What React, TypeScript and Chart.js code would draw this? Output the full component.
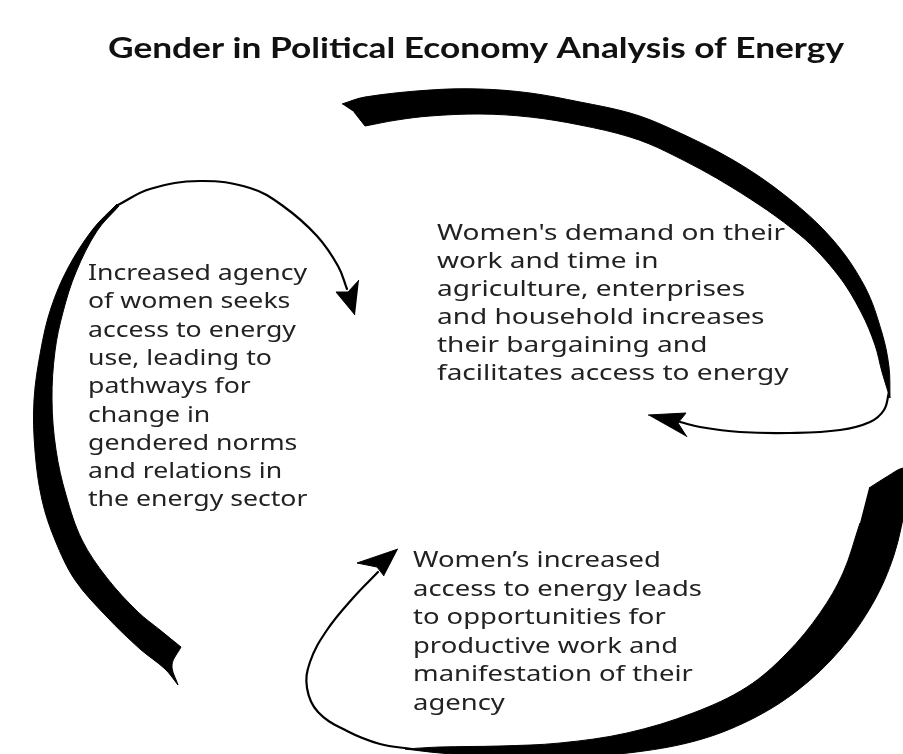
import React, { useEffect, useRef } from "react";
import { Chart, registerables } from "chart.js";

Chart.register(...registerables);

// ---------- text content ----------
const titleText = "Gender in Political Economy Analysis of Energy";
const leftText = [
  "Increased agency",
  "of women seeks",
  "access to energy",
  "use, leading to",
  "pathways for",
  "change in",
  "gendered norms",
  "and relations in",
  "the energy sector",
];
const rightText = [
  "Women's demand on their",
  "work and time in",
  "agriculture, enterprises",
  "and household increases",
  "their bargaining and",
  "facilitates access to energy",
];
const bottomText = [
  "Women\u2019s increased",
  "access to energy leads",
  "to opportunities for",
  "productive work and",
  "manifestation of their",
  "agency",
];

// ---------- outline points of the marks (picture coordinates) ----------
// a third element "c" marks a sharp corner
type P = [number, number] | [number, number, "c"];

const topArc: P[] = [
  [342, 104, "c"], [365, 97], [430, 90], [480, 89], [530, 93], [580, 102], [630, 113], [667, 127],
  [733, 160], [787, 197], [833, 240], [865, 287], [882, 333], [889, 367], [890, 398, "c"],
  [882, 372], [875, 345], [861, 312], [838, 275], [800, 235], [733, 188], [667, 152], [630, 137],
  [580, 125], [530, 117], [480, 114], [430, 116], [397, 120], [365, 126, "c"], [354, 112],
];
const topTail: P[] = [
  [889, 392], [884, 410], [870, 422], [840, 430], [790, 433], [740, 432], [700, 427], [680, 422],
];
const topHead: P[] = [[648, 415], [686, 413], [678, 423], [687, 437]];

const leftArc: P[] = [
  [117, 204, "c"], [93, 229], [68, 268], [51, 308], [41, 349], [34, 400], [35, 451], [42, 500],
  [55, 540], [75, 580], [107, 617], [140, 649], [165, 669], [178, 685, "c"], [172, 665], [181, 647, "c"],
  [160, 630], [138, 612], [107, 578], [82, 540], [66, 495], [56, 450], [52, 400], [55, 351],
  [63, 312], [76, 272], [97, 231], [119, 206],
];
const leftTail: P[] = [
  [118, 205], [150, 189], [200, 181], [250, 188], [283, 206], [317, 236], [338, 266], [347, 289],
];
const leftHead: P[] = [[355, 315], [336, 292], [348, 292], [359, 280]];

const bottomArc: P[] = [
  [869, 488, "c"], [888, 476], [903, 468], [914, 470, "c"], [907, 500], [894, 555], [873, 603],
  [840, 650], [798, 690], [750, 720], [695, 741], [628, 753], [560, 757], [500, 757], [440, 753],
  [405, 749, "c"], [440, 747], [500, 746], [560, 743], [627, 733], [693, 713], [747, 687],
  [787, 653], [820, 613], [843, 573], [860, 523],
];
const bottomTail: P[] = [
  [412, 749], [380, 744], [347, 731], [318, 712], [307, 688], [310, 662], [327, 630], [353, 598], [378, 572],
];
const bottomHead: P[] = [[398, 549], [357, 563], [377, 567], [384, 576]];

// ---------- layout / style constants ----------
const W = 903;
const H = 754;
const INK = "#000000";
const TEXT = "#222222";
const titleStyle = { x: 476, y: 58, font: "bold 29px Lato", width: 736, color: "#111111" };
const blockFont = '22px "Noto Sans"';
const leftStyle = { x: 88, y: 280, lh: 28.3, refLine: 0, refWidth: 219 };
const rightStyle = { x: 437, y: 240, lh: 28, refLine: 0, refWidth: 348 };
const bottomStyle = { x: 413, y: 567, lh: 28.6, refLine: 1, refWidth: 289 };

function toData(pts: P[]) {
  const out: { x: number; y: number }[] = [];
  for (const p of pts) {
    out.push({ x: p[0], y: p[1] });
    if (p[2] === "c") out.push({ x: p[0], y: p[1] });
  }
  return out;
}

function shape(pts: P[], tension: number) {
  return {
    data: toData(pts),
    fill: "shape",
    backgroundColor: INK,
    borderColor: INK,
    borderWidth: 1,
    tension,
    pointRadius: 0,
  };
}

function stroke(pts: P[], width: number) {
  return {
    data: toData(pts),
    fill: false,
    borderColor: INK,
    borderWidth: width,
    tension: 0.4,
    pointRadius: 0,
    borderCapStyle: "round",
  };
}

const textPlugin = {
  id: "diagramText",
  afterDatasetsDraw(chart: any) {
    const { ctx } = chart;
    const xs = chart.scales.x;
    const ys = chart.scales.y;
    ctx.save();
    ctx.textBaseline = "alphabetic";

    // title
    ctx.font = titleStyle.font;
    ctx.fillStyle = titleStyle.color;
    ctx.textAlign = "center";
    const tw = ctx.measureText(titleText).width;
    const tsx = titleStyle.width / tw;
    ctx.save();
    ctx.translate(xs.getPixelForValue(titleStyle.x), ys.getPixelForValue(titleStyle.y));
    ctx.scale(tsx, 1);
    ctx.fillText(titleText, 0, 0);
    ctx.restore();

    const block = (lines: string[], st: any) => {
      ctx.font = blockFont;
      ctx.fillStyle = TEXT;
      ctx.textAlign = "left";
      const sx = st.refWidth / ctx.measureText(lines[st.refLine]).width;
      lines.forEach((line, i) => {
        ctx.save();
        ctx.translate(xs.getPixelForValue(st.x), ys.getPixelForValue(st.y + i * st.lh));
        ctx.scale(sx, 1);
        ctx.fillText(line, 0, 0);
        ctx.restore();
      });
    };
    block(leftText, leftStyle);
    block(rightText, rightStyle);
    block(bottomText, bottomStyle);
    ctx.restore();
  },
};

export default function App() {
  const ref = useRef<HTMLCanvasElement | null>(null);
  useEffect(() => {
    document.body.style.margin = "0";
    const canvas = ref.current;
    if (!canvas) return;
    const chart = new Chart(canvas, {
      type: "line",
      data: {
        datasets: [
          shape(topArc, 0.35),
          stroke(topTail, 2.2),
          shape(topHead, 0),
          shape(leftArc, 0.35),
          stroke(leftTail, 2.2),
          shape(leftHead, 0),
          shape(bottomArc, 0.35),
          stroke(bottomTail, 2.2),
          shape(bottomHead, 0),
        ] as any,
      },
      options: {
        animation: false,
        responsive: false,
        devicePixelRatio: 1,
        layout: { padding: 0 },
        events: [],
        scales: {
          x: { type: "linear", min: 0, max: W, display: false },
          y: { type: "linear", min: 0, max: H, reverse: true, display: false },
        },
        plugins: {
          legend: { display: false },
          tooltip: { enabled: false },
          title: { display: false },
        },
      },
      plugins: [textPlugin],
    });
    return () => chart.destroy();
  }, []);
  return (
    <div style={{ width: W, height: H, background: "#ffffff" }}>
      <canvas ref={ref} width={W} height={H} style={{ display: "block" }} />
    </div>
  );
}
